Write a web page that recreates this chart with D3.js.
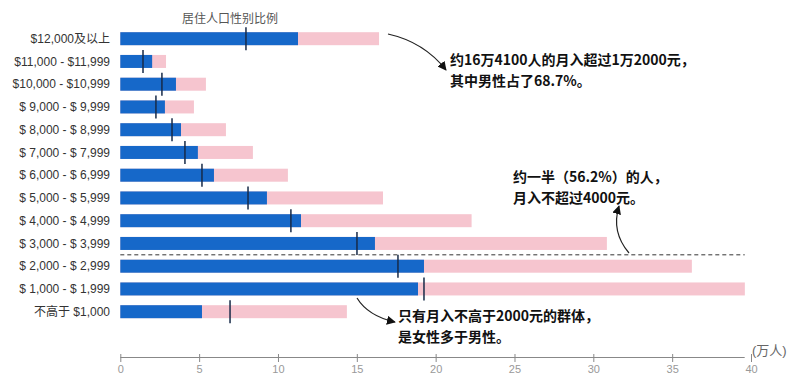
<!DOCTYPE html>
<html>
<head>
<meta charset="utf-8">
<script src="https://cdn.jsdelivr.net/npm/d3@7"></script>
<style>
  body { margin: 0; background: #fff; }
  svg text { font-family: "Liberation Sans", "Noto Sans CJK SC", sans-serif; }
  .note { font-family: "Noto Sans CJK SC", sans-serif; font-weight: bold; font-size: 14px; fill: #111; }
</style>
</head>
<body>
<svg id="chart" width="800" height="388"></svg>
<script>
// income bands, top to bottom
var bands = ["$12,000及以上", "$11,000 - $11,999", "$10,000 - $10,999", "$ 9,000 - $ 9,999",
             "$ 8,000 - $ 8,999", "$ 7,000 - $ 7,999", "$ 6,000 - $ 6,999", "$ 5,000 - $ 5,999",
             "$ 4,000 - $ 4,999", "$ 3,000 - $ 3,999", "$ 2,000 - $ 2,999", "$ 1,000 - $ 1,999",
             "不高于 $1,000"];
// 万人
var male  = [11.27, 2.02, 3.53, 2.83, 3.85, 4.92, 5.94, 9.30, 11.46, 16.15, 19.26, 18.88, 5.18];
var total = [16.41, 2.90, 5.43, 4.67, 6.70, 8.41, 10.63, 16.66, 22.28, 30.86, 36.25, 39.61, 14.37];
// marker: male count if split like the resident population
var ratioMark = [7.97, 1.44, 2.64, 2.26, 3.28, 4.10, 5.18, 8.10, 10.82, 15.01, 17.61, 19.26, 6.96];
var xTicks = [0, 5, 10, 15, 20, 25, 30, 35, 40];

var svg = d3.select("#chart");

var x = d3.scaleLinear().domain([0, 40]).range([120.3, 751]);
var y = d3.scalePoint().domain(bands).range([38.7, 311.7]);
var barH = 13;

var rows = bands.map(function(b, i){
  return { band: b, male: male[i], total: total[i], mark: ratioMark[i] };
});

// defs: arrow head
svg.append("defs").append("marker")
    .attr("id", "arrow")
    .attr("viewBox", "0 0 10 10")
    .attr("refX", 9).attr("refY", 5)
    .attr("markerWidth", 9).attr("markerHeight", 9)
    .attr("markerUnits", "userSpaceOnUse")
    .attr("orient", "auto")
  .append("path")
    .attr("d", "M0,0 L10,5 L0,10 z")
    .attr("fill", "#111");

// title
svg.append("text")
    .attr("x", 230).attr("y", 23)
    .attr("text-anchor", "middle")
    .attr("font-size", "12px")
    .attr("fill", "#555")
    .text("居住人口性别比例");

// total (pink)
svg.append("g").selectAll("rect")
  .data(rows).enter().append("rect")
    .attr("x", x(0))
    .attr("y", function(d){ return y(d.band) - barH / 2; })
    .attr("width", function(d){ return x(d.total) - x(0); })
    .attr("height", barH)
    .attr("fill", "#f6c5cf");

// male (blue)
svg.append("g").selectAll("rect")
  .data(rows).enter().append("rect")
    .attr("x", x(0))
    .attr("y", function(d){ return y(d.band) - barH / 2; })
    .attr("width", function(d){ return x(d.male) - x(0); })
    .attr("height", barH)
    .attr("fill", "#1668c9");

// ratio markers
svg.append("g").selectAll("line")
  .data(rows).enter().append("line")
    .attr("x1", function(d){ return x(d.mark); })
    .attr("x2", function(d){ return x(d.mark); })
    .attr("y1", function(d){ return y(d.band) - 11.5; })
    .attr("y2", function(d){ return y(d.band) + 11.5; })
    .attr("stroke", "#172a48")
    .attr("stroke-width", 1.5);

// row labels
svg.append("g").selectAll("text")
  .data(rows).enter().append("text")
    .attr("x", 110)
    .attr("y", function(d){ return y(d.band); })
    .attr("dy", "0.35em")
    .attr("text-anchor", "end")
    .attr("font-size", "12px")
    .attr("fill", "#333")
    .text(function(d){ return d.band; });

// dashed split between 3000 and 2000
var splitY = (y(bands[9]) + y(bands[10])) / 2;
svg.append("line")
    .attr("x1", x(0)).attr("x2", x(39.6))
    .attr("y1", splitY).attr("y2", splitY)
    .attr("stroke", "#333")
    .attr("stroke-dasharray", "4,3");

// x axis
var xAxisGroup = svg.append("g")
    .attr("transform", "translate(0,357)")
    .call(d3.axisBottom(x).tickValues(xTicks).tickSize(5).tickSizeOuter(0));
// axis line stops a little short of the 40 tick, like the original
xAxisGroup.select(".domain")
    .attr("d", "M" + x(0) + ",0.5H" + x(39.6))
    .attr("stroke", "#888");
xAxisGroup.selectAll(".tick line").attr("stroke", "#888").attr("y1", -3);
xAxisGroup.selectAll(".tick text")
    .attr("fill", "#999")
    .attr("font-size", "11px")
    .attr("font-family", "Liberation Sans, sans-serif");

svg.append("text")
    .attr("x", 752).attr("y", 355)
    .attr("font-size", "13px")
    .attr("fill", "#666")
    .attr("font-family", "Noto Sans CJK SC, sans-serif")
    .text("(万人)");

// annotations
function note(lines, x0, y0){
  var t = svg.append("text").attr("class", "note");
  lines.forEach(function(s, i){
    t.append("tspan").attr("x", x0).attr("y", y0 + i * 21).text(s);
  });
}
note(["约16万4100人的月入超过1万2000元，", "其中男性占了68.7%。"], 450, 65);
note(["约一半（56.2%）的人，", "月入不超过4000元。"], 513, 182);
note(["只有月入不高于2000元的群体，", "是女性多于男性。"], 398, 321);

function arrow(d){
  svg.append("path")
      .attr("d", d)
      .attr("fill", "none")
      .attr("stroke", "#222")
      .attr("stroke-width", 1.2)
      .attr("marker-end", "url(#arrow)");
}
arrow("M388,34 Q424,42 446,70");
arrow("M629,253 Q611,232 619,206");
arrow("M357,298 Q368,316 395,322");
</script>
</body>
</html>
